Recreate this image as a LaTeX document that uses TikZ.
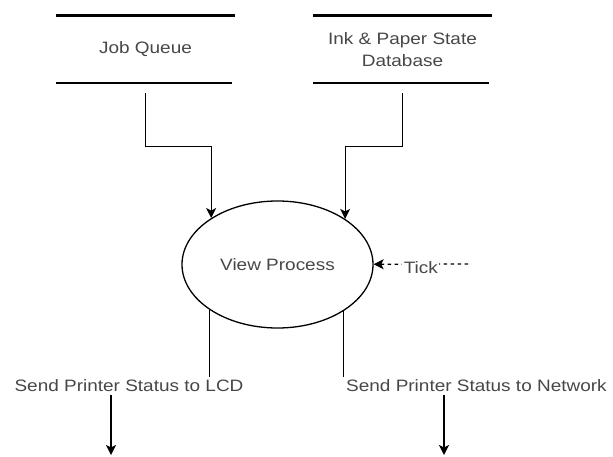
\documentclass[tikz,border=0pt]{standalone}
\usepackage{fontspec}
\setmainfont{Liberation Sans}[FakeStretch=1.15]
\usetikzlibrary{arrows.meta,shapes.geometric}
\begin{document}
\begin{tikzpicture}[x=1pt,y=-1pt,
  txt/.style={font=\fontsize{16.5}{21.7}\selectfont, text=black!72},
  store/.style={txt, minimum width=178pt, minimum height=67pt, inner sep=0pt, align=center},
  storeline/.style={line width=2.6pt},
  flow/.style={line width=1.2pt, -{Stealth[length=10pt,width=10pt,inset=2.5pt]}},
  plain/.style={line width=1.2pt},
  proc/.style={ellipse, draw, line width=1.3pt, minimum width=191pt, minimum height=127pt, inner sep=0pt, txt},
  lbl/.style={txt, inner sep=2.5pt}]
\useasboundingbox (0,0) rectangle (613,457);
% data stores
\node[store] (jq) at (145.5,49.3) {Job Queue};
\draw[storeline] (jq.north west) -- (jq.north east);
\draw[storeline] (jq.south west) -- ([xshift=-3pt]jq.south east);
\node[store] (db) at (402.5,49.5) {Ink \& Paper State\\Database};
\draw[storeline] (db.north west) -- (db.north east);
\draw[storeline] (db.south west) -- ([xshift=-3pt]db.south east);
% process
\node[proc] (vp) at (277.5,264.5) {View Process};
% inputs
\coordinate (bend) at (0,146.7);
\draw[flow, shorten <=10pt] (jq.south) -- (jq.south |- bend) -| (vp.145.2);
\draw[flow, shorten <=10pt] (db.south) -- (db.south |- bend) -| (vp.34.8);
% tick
\coordinate (tickstart) at (468,264);
\draw[flow, dash pattern=on 3.5pt off 3.5pt] (tickstart) -- (vp)
  node[midway, lbl, fill=white, inner sep=1.5pt, yshift=-3pt] (tick) {Tick};
% outputs
\node[lbl] (lcd) at (129,386) {Send Printer Status to LCD};
\draw[plain] (vp.214.8) -- (vp.214.8 |- lcd.north);
\coordinate (lcdout) at (111,455);
\draw[flow] (lcd.south -| lcdout) -- (lcdout);
\node[lbl, anchor=west] (net) at (343.5,386) {Send Printer Status to Network};
\draw[plain] (vp.325.2) -- (vp.325.2 |- net.north);
\coordinate (netout) at (444,455);
\draw[flow] (net.south -| netout) -- (netout);
\end{tikzpicture}
\end{document}
